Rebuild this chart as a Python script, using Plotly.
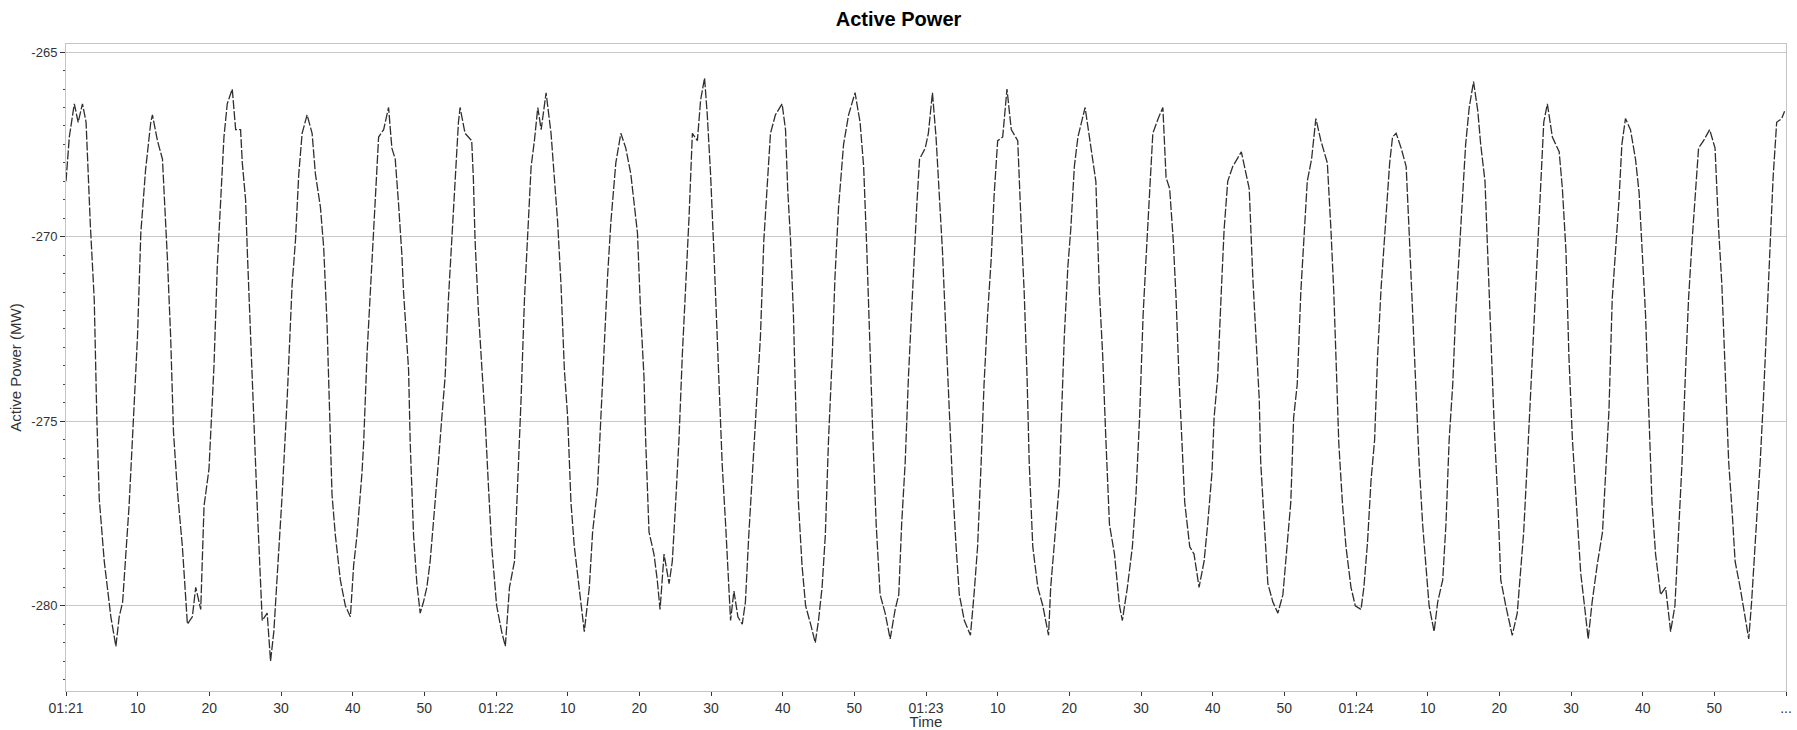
import pandas as pd
import plotly.graph_objects as go

# ---- data ----
START = "2024-01-01 01:21:00"
SECONDS = [
    0, 0.46, 1.16, 1.7, 2.3, 2.8, 3.4, 3.94, 4.3, 4.64, 5.34, 5.8, 6.26, 6.96, 7.42, 7.9, 8.35, 8.8, 9.42, 9.98,
    10.44, 11.1, 11.83, 12.06, 12.76, 13.46, 14.15, 14.6, 15.0, 15.55, 16.24, 16.94, 17.63, 18.1, 18.8, 19.26, 19.95,
    20.65, 21.11, 21.8, 22.04, 22.5, 23.2, 23.67, 24.36, 24.6, 25.06, 25.3, 25.75, 26.13, 26.68, 27.38, 28.07, 28.54,
    29.0, 29.47, 30.16, 30.86, 31.55, 32.02, 32.48, 32.95, 33.64, 34.34, 34.8, 35.5, 35.96, 36.43, 36.8, 37.12, 37.59,
    38.28, 38.98, 39.68, 40.14, 40.6, 41.3, 41.53, 42.0, 42.69, 43.16, 43.62, 44.32, 45.01, 45.47, 45.94, 46.4, 46.87,
    47.1, 47.8, 48.03, 48.5, 48.96, 49.42, 49.88, 50.35, 50.81, 51.51, 51.97, 52.44, 52.9, 53.36, 53.83, 54.29, 54.76,
    54.99, 55.68, 56.61, 56.84, 57.08, 57.54, 58.01, 58.47, 58.93, 59.4, 60.09, 60.79, 61.3, 61.88, 62.58, 63.04,
    63.5, 63.97, 64.43, 64.9, 65.36, 65.83, 66.3, 66.99, 67.68, 68.14, 68.6, 69.07, 69.54, 70.0, 70.46, 70.93, 71.62,
    72.32, 73.02, 73.48, 74.17, 74.64, 75.1, 75.56, 76.03, 76.72, 77.42, 78.11, 78.81, 79.27, 79.74, 80.19, 80.65,
    80.88, 81.35, 82.04, 82.5, 82.89, 83.45, 84.15, 84.6, 85.07, 85.53, 86.0, 86.46, 86.93, 87.4, 88.1, 88.55, 89.1,
    89.48, 89.94, 90.4, 90.87, 91.24, 91.57, 92.04, 92.73, 93.2, 93.75, 94.36, 94.8, 95.27, 95.87, 96.43, 96.9, 97.37,
    97.83, 98.3, 98.99, 99.92, 100.4, 100.7, 101.1, 101.5, 101.8, 102.2, 102.7, 103.2, 103.9, 104.55, 105.0, 105.5,
    105.95, 106.4, 106.9, 107.3, 107.8, 108.5, 109.2, 110.1, 110.8, 111.3, 111.75, 112.2, 112.6, 113.05, 113.6, 114.3,
    115.0, 115.7, 116.2, 116.6, 117.1, 117.55, 118.25, 118.7, 119.1, 119.9, 120.33, 120.9, 121.4, 121.85, 122.3, 122.8,
    123.3, 123.7, 124.2, 124.65, 125.35, 126.2, 126.7, 127.2, 127.7, 128.1, 128.6, 129.1, 129.5, 130.0, 130.7, 131.3,
    131.9, 132.8, 133.3, 133.7, 134.1, 134.4, 134.9, 135.6, 136.3, 137.1, 137.4, 138.1, 138.6, 138.9, 139.3, 139.8,
    140.2, 140.7, 141.2, 142.2, 142.8, 143.3, 143.7, 144.2, 144.65, 145.1, 145.6, 146.3, 147.0, 147.4, 148.1, 148.8,
    149.3, 149.8, 150.3, 150.7, 151.2, 151.65, 152.4, 153.05, 153.5, 154.0, 154.5, 154.9, 155.3, 155.65, 156.1, 156.8,
    157.4, 158.1, 158.8, 159.3, 159.9, 160.2, 160.7, 161.2, 161.6, 162.1, 162.8, 164.0, 164.7, 165.1, 165.6, 166.05,
    166.5, 166.7, 167.2, 167.7, 168.4, 169.1, 169.8, 170.4, 170.9, 171.3, 171.8, 172.3, 172.7, 173.2, 173.8, 174.4,
    175.1, 176.0, 176.5, 176.9, 177.4, 177.6, 178.1, 178.6, 179.3, 179.9, 180.7, 181.1, 181.6, 182.1, 182.6, 183.0,
    183.5, 183.95, 184.2, 184.7, 185.1, 185.6, 186.3, 187.0, 187.4, 187.9, 188.4, 188.8, 189.3, 189.8, 190.2, 190.9,
    191.4, 192.1, 192.55, 193.0, 193.5, 193.9, 194.4, 194.9, 195.3, 195.8, 196.4, 197.0, 197.4, 198.0, 198.35, 198.8,
    199.3, 199.8, 200.2, 200.9, 201.8, 202.5, 203.0, 203.4, 203.9, 204.4, 204.85, 205.3, 205.8, 206.2, 206.7, 207.4,
    208.35, 208.8, 209.3, 209.7, 210.2, 210.65, 211.35, 212.0, 212.4, 212.95, 213.65, 214.4, 214.8, 215.3, 215.75,
    216.2, 216.7, 217.1, 217.6, 218.3, 219.0, 219.5, 219.9, 220.4, 220.85, 221.3, 221.8, 222.5, 223.2, 223.9, 224.5,
    225.0, 225.5, 225.95, 226.4, 226.9, 227.4, 227.8, 228.5, 229.35, 230.1, 230.6, 231.05, 231.5, 232.0, 232.5, 232.9,
    233.6, 234.1, 234.8, 235.2, 235.9, 236.4, 236.85, 237.3, 237.8, 238.2, 238.7, 239.4, 239.8,
]
ACTIVE_POWER_MW = [
    -268.5, -267.3, -266.4, -266.9, -266.4, -266.9, -269.7, -271.7, -274.9, -277.1, -278.8, -279.5, -280.3, -281.1,
    -280.3, -279.9, -278.5, -277.3, -274.9, -272.7, -269.9, -268.2, -266.9, -266.7, -267.4, -267.9, -270.6, -272.7,
    -275.3, -276.9, -278.4, -280.5, -280.3, -279.5, -280.1, -277.3, -276.3, -273.5, -270.8, -268.1, -267.3, -266.4,
    -266.0, -267.1, -267.1, -268.0, -269.0, -270.4, -272.7, -274.9, -277.3, -280.4, -280.2, -281.5, -280.7, -279.2,
    -277.0, -274.4, -271.3, -270.1, -268.3, -267.2, -266.7, -267.2, -268.3, -269.2, -270.3, -272.4, -274.9, -277.0,
    -278.1, -279.3, -280.0, -280.3, -278.9, -278.1, -276.4, -275.6, -273.2, -270.6, -269.0, -267.3, -267.1, -266.5,
    -267.6, -267.9, -269.1, -270.5, -271.5, -273.6, -275.6, -278.1, -279.4, -280.2, -279.9, -279.5, -278.8, -277.3,
    -276.1, -274.9, -273.8, -271.7, -270.0, -268.3, -266.9, -266.5, -267.2, -267.4, -268.4, -270.1, -272.0, -273.5,
    -274.9, -276.7, -278.4, -280.0, -280.7, -281.1, -279.5, -278.8, -276.7, -274.4, -271.7, -269.9, -268.1, -267.4,
    -266.5, -267.1, -266.1, -267.2, -268.3, -269.6, -271.3, -273.6, -274.9, -277.2, -278.4, -279.5, -280.7, -279.5,
    -278.0, -276.8, -274.9, -272.7, -271.1, -269.6, -268.0, -267.2, -267.6, -268.3, -269.1, -269.9, -272.1, -273.8,
    -275.5, -278.0, -278.6, -279.3, -280.1, -278.6, -279.4, -278.8, -277.2, -275.5, -273.2, -271.4, -269.5, -267.2,
    -267.4, -266.3, -265.7, -266.7, -268.3, -270.4, -272.7, -274.7, -276.2, -277.8, -280.4, -279.6, -280.3, -280.5,
    -279.9, -278.1, -276.1, -274.4, -272.7, -270.1, -268.5, -267.2, -266.7, -266.4, -267.1, -268.7, -270.1, -272.1,
    -274.4, -277.2, -278.9, -280.0, -280.5, -281.0, -280.4, -279.5, -278.1, -275.5, -273.3, -271.1, -269.2, -267.5,
    -266.7, -266.1, -266.9, -268.1, -270.4, -273.2, -275.5, -277.8, -279.7, -280.2, -280.9, -280.1, -279.7, -277.8,
    -276.1, -273.8, -270.8, -269.2, -267.9, -267.6, -267.2, -266.1, -267.3, -268.7, -270.4, -272.7, -274.9, -276.7,
    -278.4, -279.7, -280.4, -280.8, -279.7, -278.4, -276.1, -274.0, -272.1, -270.6, -268.9, -267.4, -267.3, -266.0,
    -267.1, -267.4, -269.8, -271.5, -273.8, -276.1, -278.4, -279.5, -280.0, -280.8, -279.5, -277.8, -276.7, -274.9,
    -272.7, -270.8, -269.8, -268.1, -267.3, -266.5, -267.3, -268.1, -268.5, -271.5, -273.2, -275.5, -277.8, -278.6,
    -280.0, -280.4, -279.5, -278.4, -277.0, -274.9, -272.1, -270.6, -268.9, -267.2, -266.8, -266.5, -268.4, -268.7,
    -270.1, -271.7, -273.8, -275.5, -277.2, -278.4, -278.6, -279.5, -278.8, -277.8, -276.4, -274.9, -273.8, -271.5,
    -269.8, -268.5, -268.1, -267.7, -268.4, -268.7, -271.1, -272.9, -274.4, -276.1, -277.8, -279.4, -279.9, -280.2,
    -279.7, -278.4, -277.2, -274.9, -274.0, -271.5, -270.1, -268.5, -267.9, -266.8, -267.4, -268.0, -269.8, -271.5,
    -274.4, -275.6, -277.2, -278.4, -279.5, -280.0, -280.1, -279.5, -278.3, -276.6, -275.5, -273.3, -271.4, -270.1,
    -269.2, -268.0, -267.3, -267.2, -267.6, -268.1, -269.8, -272.1, -274.7, -276.1, -277.8, -278.9, -280.0, -280.7,
    -279.9, -279.3, -277.8, -275.5, -274.0, -272.1, -270.4, -269.0, -267.5, -266.5, -265.8, -266.6, -267.5, -268.5,
    -270.4, -272.7, -275.2, -277.2, -279.3, -280.0, -280.8, -280.2, -278.9, -278.0, -276.1, -274.1, -272.1, -270.1,
    -268.4, -266.9, -266.4, -267.3, -267.7, -268.7, -270.4, -273.2, -275.5, -276.8, -279.1, -280.2, -280.9, -279.9,
    -278.9, -278.0, -276.5, -274.7, -271.7, -270.5, -269.0, -267.5, -266.8, -267.1, -267.9, -268.8, -270.4, -272.1,
    -274.7, -277.2, -278.6, -279.7, -279.5, -280.7, -280.0, -278.0, -276.1, -273.8, -271.7, -270.1, -268.7, -267.6,
    -267.4, -267.1, -267.6, -269.8, -271.3, -273.8, -276.1, -277.5, -278.8, -279.5, -280.1, -280.9, -279.9, -277.8,
    -276.1, -274.4, -272.4, -270.0, -268.4, -266.9, -266.8, -266.6,
]
TICK_SECONDS = list(range(0, 241, 10))
TICK_LABELS = ["01:21", "10", "20", "30", "40", "50",
               "01:22", "10", "20", "30", "40", "50",
               "01:23", "10", "20", "30", "40", "50",
               "01:24", "10", "20", "30", "40", "50", "..."]
Y_TICKS = [-265, -270, -275, -280]
TITLE = "Active Power"
X_TITLE = "Time"
Y_TITLE = "Active Power (MW)"

start = pd.Timestamp(START)
x = [start + pd.Timedelta(seconds=s) for s in SECONDS]
tickvals = [start + pd.Timedelta(seconds=s) for s in TICK_SECONDS]

FONT = "Liberation Sans, Arial, sans-serif"
AXIS_C = "#c4c4c4"
TXT_C = "#333333"

fig = go.Figure(go.Scatter(
    x=x, y=ACTIVE_POWER_MW, mode="lines",
    line=dict(color="#2f2f2f", width=1.3, dash="9px,2px"),
    showlegend=False,
))

fig.update_layout(
    width=1797, height=730,
    margin=dict(l=66, r=11, t=44, b=39),
    paper_bgcolor="white", plot_bgcolor="white",
    font=dict(family=FONT, size=13, color=TXT_C),
    title=dict(text=f"<b>{TITLE}</b>", x=0.5, xref="container", xanchor="center",
               y=1 - 19 / 730, yref="container", yanchor="middle",
               font=dict(family=FONT, size=20, color="#000000")),
)

fig.update_xaxes(
    range=[tickvals[0], tickvals[-1]],
    automargin=False,
    tickmode="array", tickvals=tickvals, ticktext=TICK_LABELS,
    ticks="outside", ticklen=4, tickcolor="#333333", tickwidth=1,
    showgrid=False, zeroline=False,
    showline=True, linecolor=AXIS_C, linewidth=1, mirror=True,
    tickfont=dict(family=FONT, size=14, color=TXT_C),
    title=dict(text=X_TITLE, standoff=2, font=dict(family=FONT, size=15, color=TXT_C)),
)

fig.update_yaxes(
    range=[-282.31, -264.78],
    automargin=False,
    tickmode="array", tickvals=Y_TICKS, ticktext=[str(v) for v in Y_TICKS],
    ticks="outside", ticklen=5, tickcolor="#333333", tickwidth=1,
    minor=dict(dtick=0.5, ticks="outside", ticklen=2, tickcolor="#444444", showgrid=False),
    showgrid=True, gridcolor="#c8c8c8", gridwidth=1, zeroline=False,
    showline=True, linecolor=AXIS_C, linewidth=1, mirror=True,
    tickfont=dict(family=FONT, size=13, color=TXT_C),
    title=dict(text=Y_TITLE, standoff=6, font=dict(family=FONT, size=15, color=TXT_C)),
)

fig.write_html(
    "out.html",
    config={"displayModeBar": False},
    post_script="document.body.style.margin='0';document.body.style.overflow='hidden';",
)
